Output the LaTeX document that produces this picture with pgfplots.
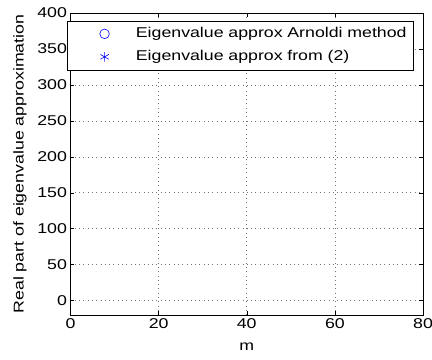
\documentclass[border=0pt]{standalone}
\usepackage{pgfplots}
\pgfplotsset{compat=1.18}
\usepackage{fontspec}
\setmainfont{Liberation Sans}[FakeStretch=1.25]
\usetikzlibrary{calc}
\newcommand{\fs}{\fontsize{14.2bp}{16bp}\selectfont}
\begin{document}
\begin{tikzpicture}
\begin{axis}[
  name=ax,
  scale only axis,
  width=352.5bp, height=302bp,
  xmin=0, xmax=80, ymin=-20, ymax=400,
  xtick={0,20,...,80}, ytick={0,50,...,400},
  tick align=inside,
  major tick length=4bp,
  tick style={black, line width=0.5pt},
  axis line style={black, line width=0.6pt},
  grid=major,
  major grid style={black!55, dash pattern=on 0.8bp off 3.5bp, line width=0.6pt},
  /pgf/number format/assume math mode=true,
  font=\fs,
  tick label style={font=\fs},
  label style={font=\fs},
  xlabel={m}, ylabel={Real part of eigenvalue approximation},
  xlabel style={yshift=-7bp},
  ylabel style={yshift=4bp},
  legend cell align=left,
  legend style={at={(-0.01,0.975)}, anchor=north west, draw=black, fill=white,
    line width=0.6pt, inner xsep=4bp, inner ysep=3.75bp, row sep=4.5bp, column sep=5bp,
    font=\fs,
    nodes={text width=271bp, text height=10bp, text depth=2.5bp, inner ysep=3bp}},
  legend image code/.code={\path (0bp,0bp); \path (57bp,0bp); \draw[#1] plot[only marks] coordinates {(33bp,0bp)};},
]
\addlegendimage{only marks, mark=o, blue, mark size=4.8bp, line width=0.6pt}
\addlegendentry{Eigenvalue approx Arnoldi method}
\addlegendimage{only marks, mark=asterisk, blue, mark size=4.8bp, line width=0.6pt}
\addlegendentry{Eigenvalue approx from (2)}
\end{axis}
\pgfresetboundingbox
\path[use as bounding box] ($(ax.south west)+(-70.5bp,-45bp)$) rectangle ($(ax.north east)+(9bp,13bp)$);
\end{tikzpicture}
\end{document}
